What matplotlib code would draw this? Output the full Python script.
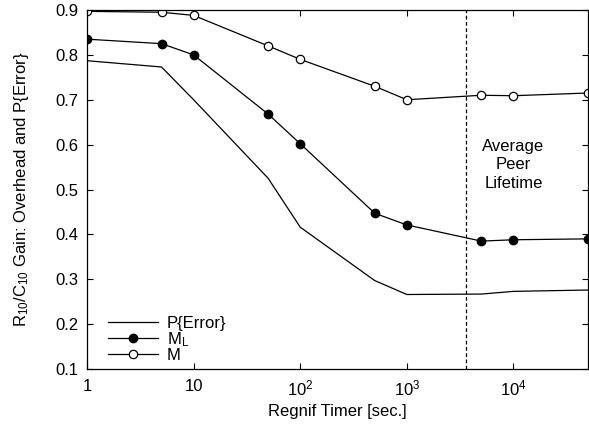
import matplotlib
matplotlib.use("Agg")
import matplotlib.pyplot as plt
from matplotlib.ticker import NullLocator, FixedLocator

plt.rcParams['font.family'] = ['Liberation Sans', 'DejaVu Sans']
plt.rcParams['mathtext.fontset'] = 'custom'
plt.rcParams['mathtext.rm'] = 'Liberation Sans'
plt.rcParams['mathtext.it'] = 'Liberation Sans'

# Regnif timer values (seconds)
timer = [1, 5, 10, 50, 100, 500, 1000, 5000, 10000, 50000]
p_error = [0.787, 0.773, 0.70, 0.525, 0.416, 0.297, 0.266, 0.267, 0.273, 0.276]
m_l = [0.835, 0.825, 0.800, 0.668, 0.602, 0.447, 0.421, 0.385, 0.388, 0.390]
m_all = [0.897, 0.895, 0.888, 0.820, 0.790, 0.730, 0.700, 0.710, 0.709, 0.715]
peer_lifetime = 3600

FS = 12

fig = plt.figure(figsize=(5.89, 4.28), dpi=100)
ax = fig.add_axes([87 / 589, 1 - 369 / 428, (588 - 87) / 589, (369 - 10) / 428])

lw = 0.9
ms = 6
ax.plot(timer, p_error, color='black', lw=lw, label='P{Error}')
ax.plot(timer, m_l, color='black', lw=lw, marker='o', ms=ms,
        mfc='black', mec='black', label=r'M$_\mathrm{L}$')
ax.plot(timer, m_all, color='black', lw=lw, marker='o', ms=ms,
        mfc='white', mec='black', mew=0.9, label='M')
ax.axvline(peer_lifetime, color='black', lw=0.9, ls=(0, (3, 2)))

ax.text(10000, 0.555, 'Average\nPeer\nLifetime', ha='center', va='center',
        fontsize=FS, linespacing=1.3)

ax.set_xscale('log')
ax.set_xlim(1, 50000)
ax.set_ylim(0.1, 0.9)
ax.xaxis.set_major_locator(FixedLocator([1, 10, 100, 1000, 10000]))
ax.set_xticklabels(['1', '10', r'10$^2$', r'10$^3$', r'10$^4$'])
ax.xaxis.set_minor_locator(NullLocator())
ax.set_yticks([0.1, 0.2, 0.3, 0.4, 0.5, 0.6, 0.7, 0.8, 0.9])
ax.tick_params(direction='in', top=True, right=True, length=4, width=0.8,
               labelsize=FS)
ax.tick_params(axis='x', pad=7)
ax.tick_params(axis='y', pad=6)
for s in ax.spines.values():
    s.set_linewidth(0.9)

ax.set_xlabel('Regnif Timer [sec.]', fontsize=FS, labelpad=4)
ax.set_ylabel(r'R$_{10}$/C$_{10}$ Gain: Overhead and P{Error}', fontsize=FS,
              labelpad=18)

leg = ax.legend(loc='lower left', frameon=False, fontsize=FS,
                handlelength=3.0, handletextpad=0.5, labelspacing=-0.05,
                borderaxespad=0.0, bbox_to_anchor=(0.029, -0.002))

fig.savefig('out.png', dpi=100)
